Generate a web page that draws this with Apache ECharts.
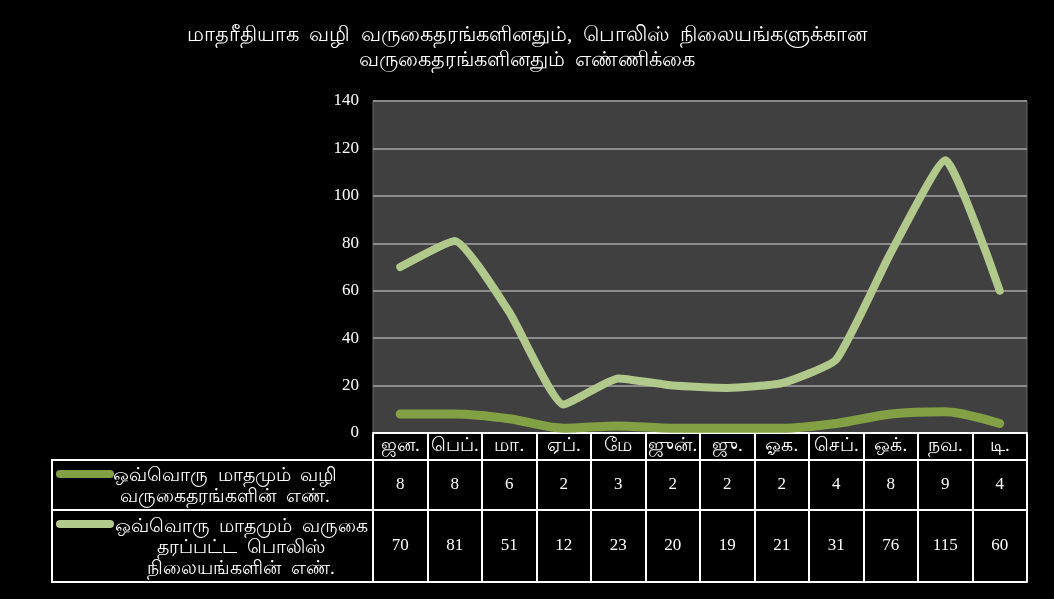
<!DOCTYPE html>
<html>
<head>
<meta charset="utf-8">
<script src="https://cdn.jsdelivr.net/npm/echarts@6/dist/echarts.min.js"></script>
<style>
    html, body { margin: 0; padding: 0; background: #000; }
    #chart { width: 1054px; height: 599px; }
</style>
</head>
<body>
<div id="chart"></div>
<script>
// data
const titleText = 'மாதரீதியாக  வழி  வருகைதரங்களினதும்,  பொலிஸ்  நிலையங்களுக்கான\nவருகைதரங்களினதும்  எண்ணிக்கை'
const months = ['ஜன.', 'பெப்.', 'மா.', 'ஏப்.', 'மே', 'ஜுன்.', 'ஜு.', 'ஓக.', 'செப்.', 'ஒக்.', 'நவ.', 'டி.']
const seriesNames = [
    'ஒவ்வொரு  மாதமும்  வழி\nவருகைதரங்களின்  எண்.',
    'ஒவ்வொரு  மாதமும்  வருகை\nதரப்பட்ட  பொலிஸ்\nநிலையங்களின்  எண்.',
]
const visits = [8, 8, 6, 2, 3, 2, 2, 2, 4, 8, 9, 4]
const stations = [70, 81, 51, 12, 23, 20, 19, 21, 31, 76, 115, 60]
const yTicks = { min: 0, max: 140, interval: 20 }

const colors = ['#83a144', '#b2c98c']
const font = "'Liberation Serif', 'Times New Roman', serif"

// layout (grid + table rows)
const G = { left: 373, right: 27, top: 101, bottom: 166 }
const headerH = 27
const rowH = [50, 72]
const labelX = [225, 241]
const tableLeft = 52
const tableTop = 599 - G.bottom

const myChart = echarts.init(document.getElementById('chart'))

//表格行用额外的x轴画出来
const rowAxis = (offset, h, values) => ({
    type: 'category',
    data: months,
    gridIndex: 0,
    position: 'bottom',
    offset: offset,
    boundaryGap: true,
    axisLine: { show: true, lineStyle: { color: '#fff', width: 2 } },
    axisTick: { show: true, length: h, lineStyle: { color: '#fff', width: 2 } },
    axisLabel: {
        show: !!values,
        interval: 0,
        color: '#fff',
        fontFamily: font,
        fontSize: 17,
        verticalAlign: 'middle',
        margin: h / 2,
        formatter: (v, i) => (values ? String(values[i]) : ''),
    },
    splitLine: { show: false },
})

const graphics = []
let y = tableTop + headerH
seriesNames.forEach((name, i) => {
    graphics.push({
        type: 'rect',
        shape: { x: tableLeft, y: y, width: G.left - tableLeft, height: rowH[i] },
        style: { fill: 'transparent', stroke: '#fff', lineWidth: 2 },
    })
    graphics.push({
        type: 'line',
        shape: { x1: 60, y1: y + 14, x2: 110, y2: y + 14 },
        style: { stroke: colors[i], lineWidth: 8, lineCap: 'round' },
    })
    graphics.push({
        type: 'text',
        x: labelX[i],
        y: y + rowH[i] / 2 + 2,
        style: {
            text: name,
            fill: '#fff',
            fontFamily: font,
            fontSize: 19,
            align: 'center',
            verticalAlign: 'middle',
            lineHeight: 21,
        },
    })
    y += rowH[i]
})

const option = {
    backgroundColor: '#000',
    animation: false,
    title: {
        text: titleText,
        left: 'center',
        top: 18,
        textStyle: {
            color: '#fff',
            fontFamily: font,
            fontSize: 21,
            fontWeight: 'normal',
            lineHeight: 25,
        },
    },
    grid: {
        left: G.left,
        right: G.right,
        top: G.top,
        bottom: G.bottom,
        show: true,
        backgroundColor: '#404040',
        borderColor: '#666',
        borderWidth: 1,
    },
    xAxis: [
        {
            ...rowAxis(0, headerH, null),
            axisLabel: {
                interval: 0,
                color: '#fff',
                fontFamily: font,
                fontSize: 19,
                verticalAlign: 'middle',
                margin: headerH / 2,
            },
        },
        rowAxis(headerH, rowH[0], visits),
        rowAxis(headerH + rowH[0], rowH[1], stations),
        {
            ...rowAxis(headerH + rowH[0] + rowH[1], 0, null),
            axisTick: { show: false },
            axisLabel: { show: false },
        },
    ],
    yAxis: {
        type: 'value',
        min: yTicks.min,
        max: yTicks.max,
        interval: yTicks.interval,
        axisLine: { show: false },
        axisTick: { show: false },
        axisLabel: { color: '#fff', fontFamily: font, fontSize: 17, margin: 14 },
        splitLine: { lineStyle: { color: '#8c8c8c', width: 2 } },
    },
    series: [
        {
            name: seriesNames[0],
            type: 'line',
            xAxisIndex: 0,
            data: visits,
            smooth: 0.3,
            symbol: 'none',
            lineStyle: { color: colors[0], width: 9, cap: 'round' },
            z: 3,
        },
        {
            name: seriesNames[1],
            type: 'line',
            xAxisIndex: 0,
            data: stations,
            smooth: 0.15,
            symbol: 'none',
            lineStyle: { color: colors[1], width: 8, cap: 'round' },
            z: 2,
        },
    ],
    graphic: graphics,
}

myChart.setOption(option)
</script>
</body>
</html>
